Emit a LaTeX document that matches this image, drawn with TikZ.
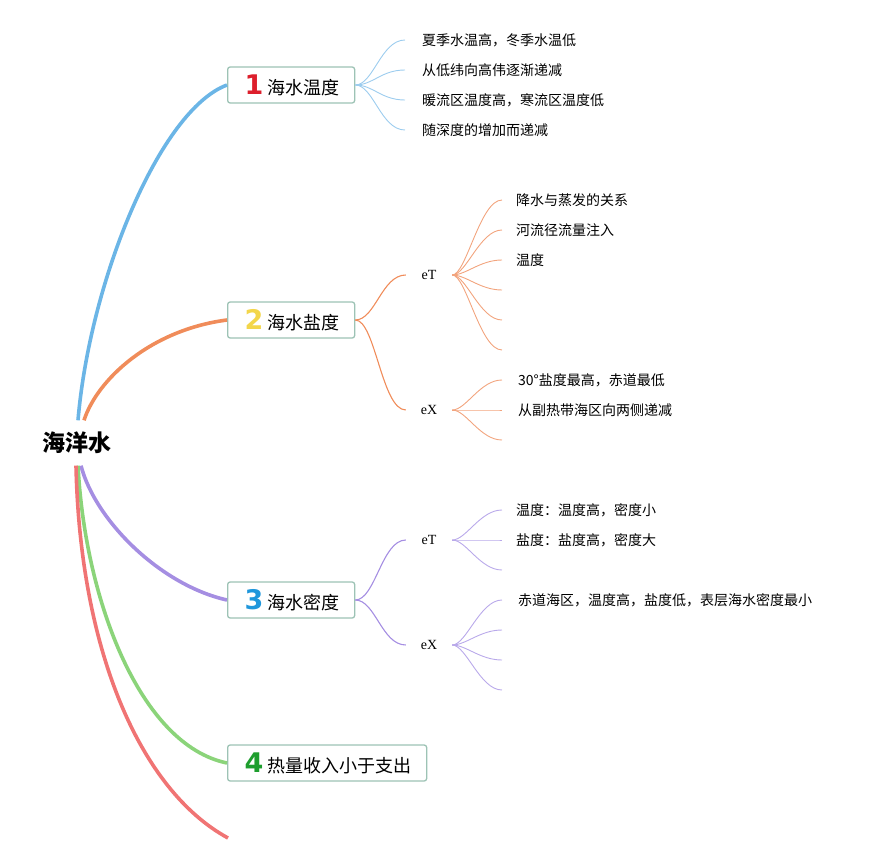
\documentclass[tikz,border=0pt]{standalone}
\usepackage{fontspec}
\setmainfont{Noto Sans CJK SC}
\newfontfamily\seriff{Liberation Serif}
\newfontfamily\digitf{DejaVu Sans Bold}
\definecolor{cA}{HTML}{6BB5E6}
\definecolor{cAl}{HTML}{9CCCEE}
\definecolor{cB}{HTML}{F08C5A}
\definecolor{cBl}{HTML}{F2A47E}
\definecolor{cC}{HTML}{A58EE2}
\definecolor{cCl}{HTML}{B9A9EA}
\definecolor{cD}{HTML}{8BD47A}
\definecolor{cE}{HTML}{F07474}
\definecolor{boxc}{HTML}{9DC3B5}
\definecolor{n1}{HTML}{DD1F2C}
\definecolor{n2}{HTML}{F3D64B}
\definecolor{n3}{HTML}{1F97DC}
\definecolor{n4}{HTML}{1E9E2E}
\newcommand\numtag[2]{\makebox[23pt][l]{\digitf\fontsize{27}{27}\selectfont\color{#1}#2}}
\begin{document}
\begin{tikzpicture}[x=1pt,y=-1pt,
  box/.style={draw=boxc, line width=1.3pt, rounded corners=2.5pt, fill=white,
    minimum height=36pt, inner xsep=0pt, inner ysep=0pt, anchor=west,
    font=\fontsize{18}{20}\selectfont},
  leaf/.style={anchor=west, inner sep=0pt, font=\fontsize{14}{16}\selectfont},
  mid/.style={inner sep=0pt, minimum width=46pt, minimum height=18pt,
    font=\seriff\fontsize{14}{16}\selectfont},
  mainline/.style={line width=3.6pt},
  thinline/.style={line width=0.9pt},
  subline/.style={line width=1.1pt},
]
\useasboundingbox (0,0) rectangle (872,864);

% root
\node[font=\bfseries\fontsize{23}{25}\selectfont, minimum height=45pt, inner sep=0pt] (root) at (77,443) {海洋水};

% main boxes
\node[box] (b1) at (227,85) {\hspace*{17pt}\numtag{n1}{1}海水温度\hspace*{15pt}};
\node[box] (b2) at (227,320) {\hspace*{17pt}\numtag{n2}{2}海水盐度\hspace*{15pt}};
\node[box] (b3) at (227,600) {\hspace*{17pt}\numtag{n3}{3}海水密度\hspace*{15pt}};
\node[box] (b4) at (227,763) {\hspace*{17pt}\numtag{n4}{4}热量收入小于支出\hspace*{15pt}};
\coordinate (b5) at (228,838);

% main connectors
\draw[mainline, cA] ([xshift=1pt]root.north) .. controls (90,280) and (160,110) .. (b1.west);
\draw[mainline, cB] ([xshift=7pt]root.north) .. controls (97,380) and (150,330) .. (b2.west);
\draw[mainline, cC] ([xshift=4pt]root.south) .. controls (95,520) and (160,585) .. (b3.west);
\draw[mainline, cD] ([xshift=1pt]root.south) .. controls (85,600) and (140,745) .. (b4.west);
\draw[mainline, cE] ([xshift=-1pt]root.south) .. controls (80,650) and (140,790) .. (b5);

% branch 1 leaves
\node[leaf] (l11) at (422,40) {夏季水温高，冬季水温低};
\node[leaf] (l12) at (422,70) {从低纬向高伟逐渐递减};
\node[leaf] (l13) at (422,100) {暖流区温度高，寒流区温度低};
\node[leaf] (l14) at (422,130) {随深度的增加而递减};
\foreach \n in {l11,l12,l13,l14}
  \draw[thinline, cAl] (b1.east) .. controls +(18,0) and +(-24,0) .. ([xshift=-17pt]\n.west);

% branch 2
\node[mid] (e2t) at (429,275) {eT};
\node[mid] (e2x) at (429,410) {eX};
\draw[subline, cB] (b2.east) .. controls +(20,0) and +(-24,0) .. (e2t.west);
\draw[subline, cB] (b2.east) .. controls +(20,0) and +(-24,0) .. (e2x.west);

\node[leaf] (l21) at (516,200) {降水与蒸发的关系};
\node[leaf] (l22) at (516,230) {河流径流量注入};
\node[leaf] (l23) at (516,260) {温度};
\coordinate (l24) at (516,290);
\coordinate (l25) at (516,320);
\coordinate (l26) at (516,350);
\foreach \n in {l21,l22,l23,l24,l25,l26}
  \draw[thinline, cBl] (e2t.east) .. controls +(14,0) and +(-22,0) .. ([xshift=-14pt]\n.west);

\node[leaf] (l27) at (518,380) {30°盐度最高，赤道最低};
\node[leaf] (l28) at (518,410) {从副热带海区向两侧递减};
\coordinate (l29) at (518,440);
\foreach \n in {l27,l28,l29}
  \draw[thinline, cBl] (e2x.east) .. controls +(14,0) and +(-22,0) .. ([xshift=-16pt]\n.west);

% branch 3
\node[mid] (e3t) at (429,540) {eT};
\node[mid] (e3x) at (429,645) {eX};
\draw[subline, cC] (b3.east) .. controls +(20,0) and +(-24,0) .. (e3t.west);
\draw[subline, cC] (b3.east) .. controls +(20,0) and +(-24,0) .. (e3x.west);

\node[leaf] (l31) at (516,510) {温度：温度高，密度小};
\node[leaf] (l32) at (516,540) {盐度：盐度高，密度大};
\coordinate (l33) at (516,570);
\foreach \n in {l31,l32,l33}
  \draw[thinline, cCl] (e3t.east) .. controls +(14,0) and +(-22,0) .. ([xshift=-14pt]\n.west);

\node[leaf] (l34) at (518,600) {赤道海区，温度高，盐度低，表层海水密度最小};
\coordinate (l35) at (518,630);
\coordinate (l36) at (518,660);
\coordinate (l37) at (518,690);
\foreach \n in {l34,l35,l36,l37}
  \draw[thinline, cCl] (e3x.east) .. controls +(14,0) and +(-22,0) .. ([xshift=-16pt]\n.west);
\end{tikzpicture}
\end{document}
